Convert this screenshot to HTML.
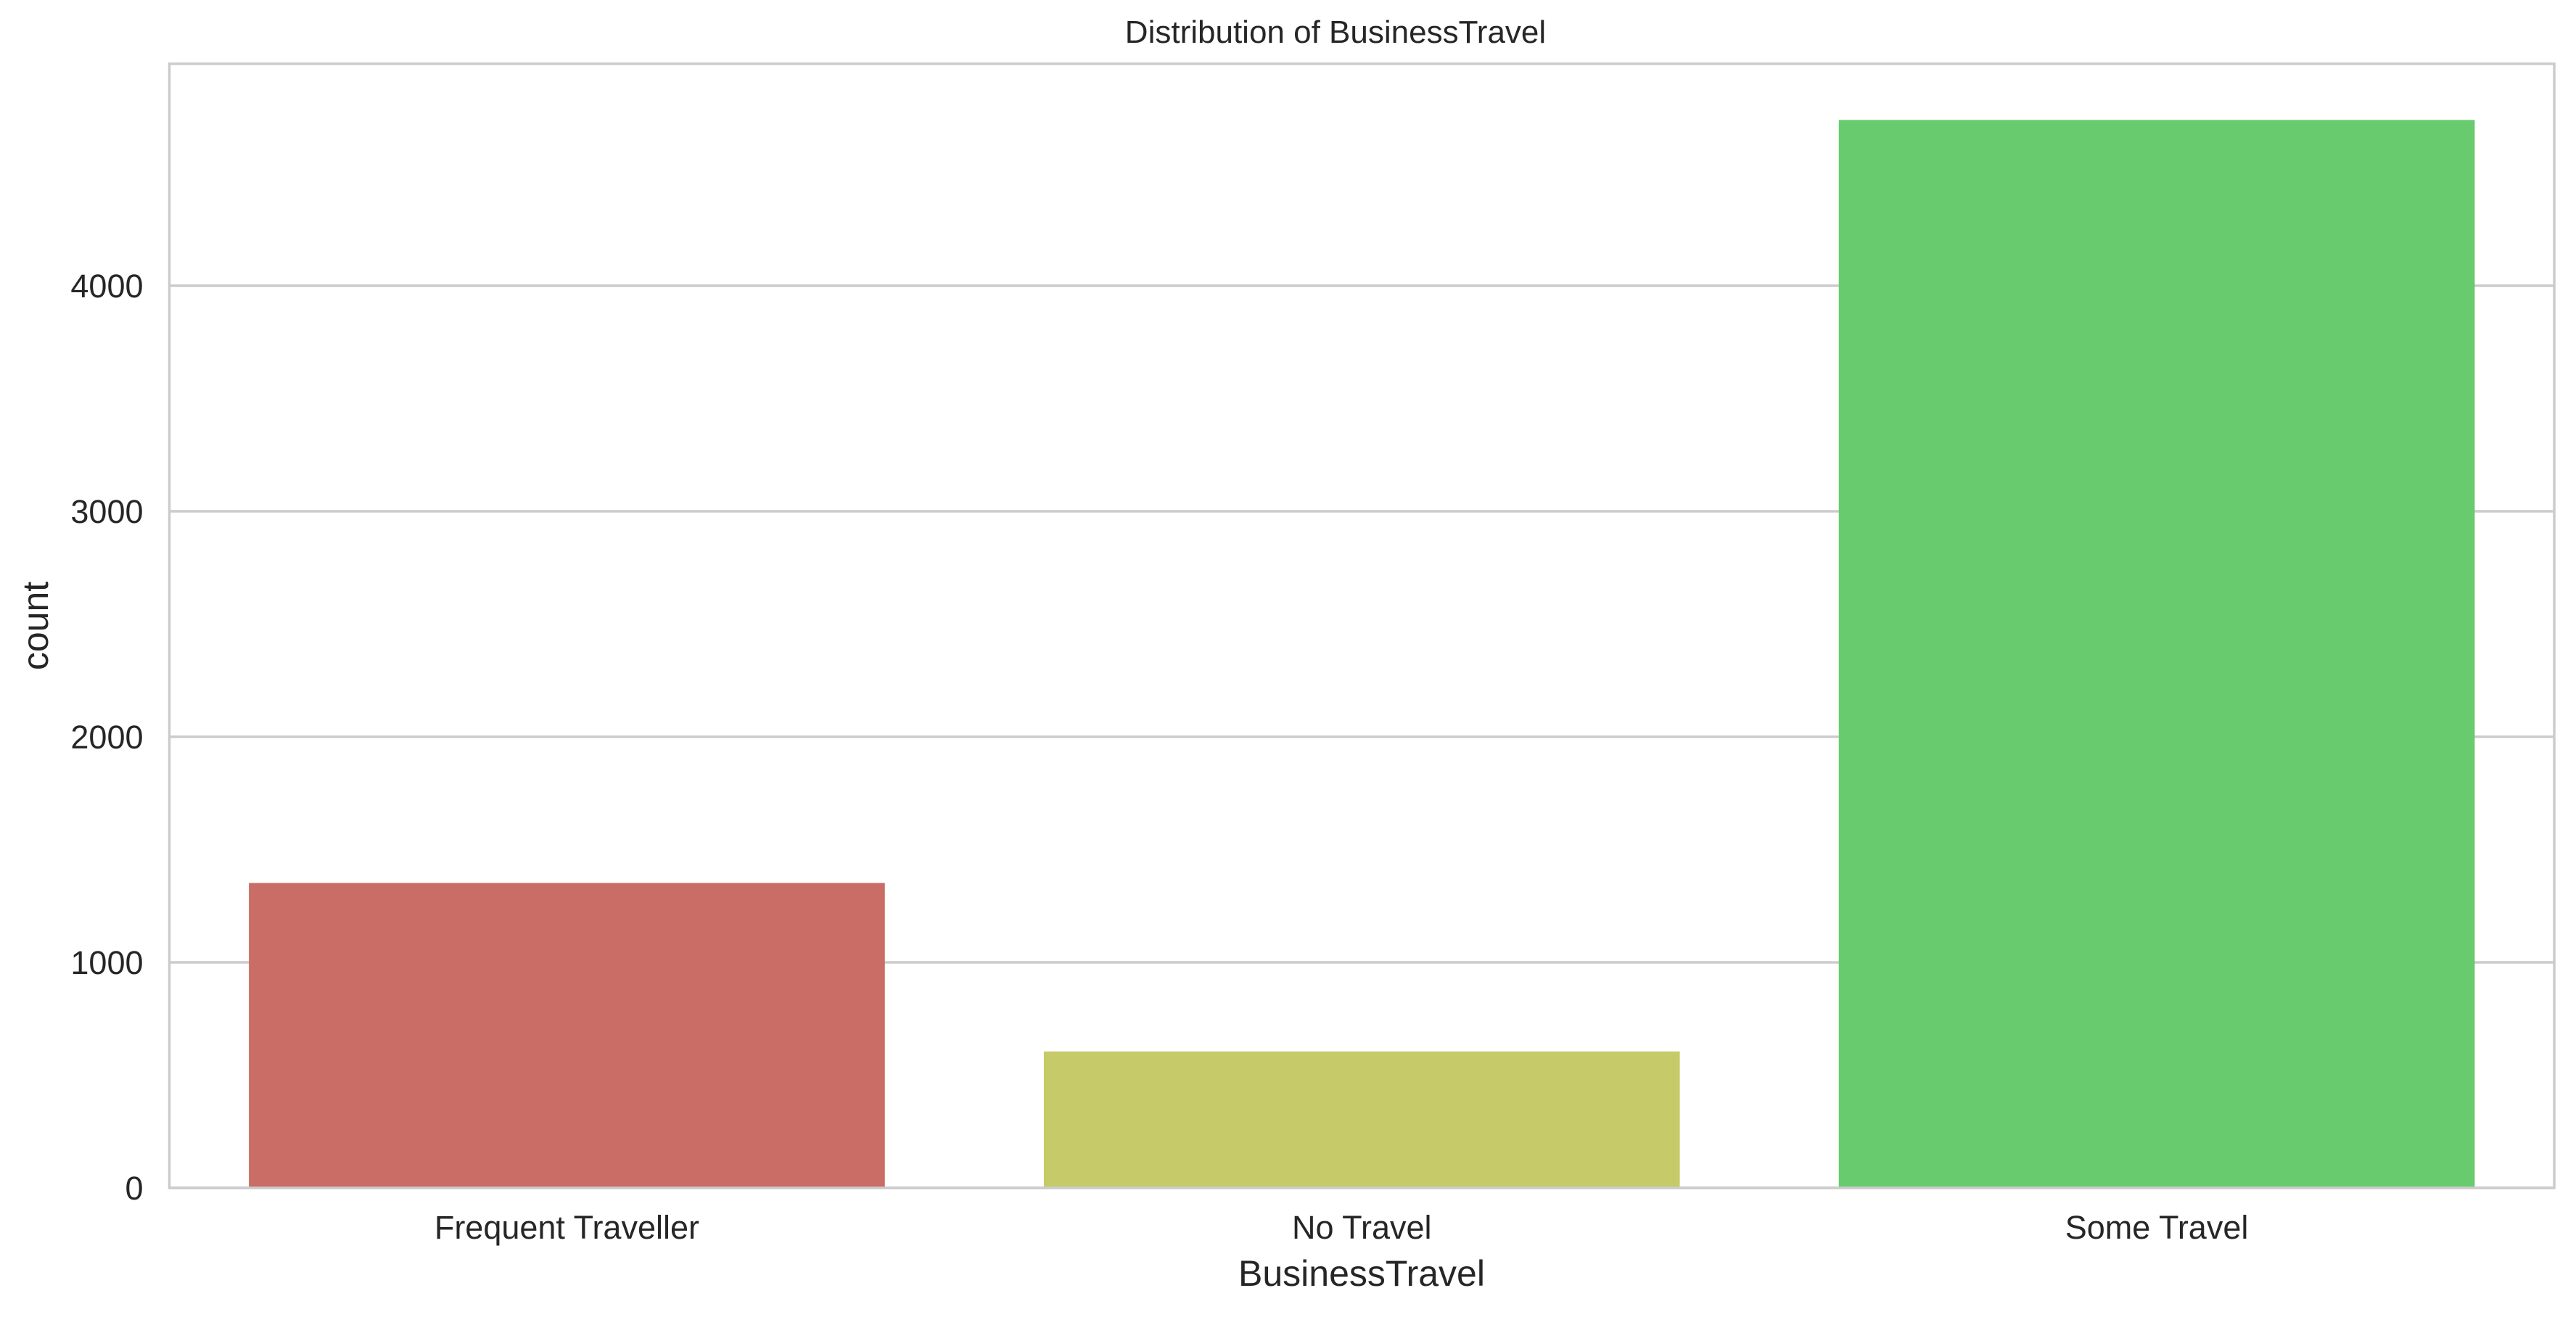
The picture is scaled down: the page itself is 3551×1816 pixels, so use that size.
<!DOCTYPE html>
<html><head><meta charset="utf-8"><style>
body{margin:0;background:#fff}
svg text{font-family:"Liberation Sans",Arial,sans-serif;fill:#262626}
</style></head><body>
<svg id="chart" width="3551" height="1811" xmlns="http://www.w3.org/2000/svg">
<rect width="3551" height="1811" fill="#fff"/>
<g id="grid"></g><g id="bars"></g><g id="axes"></g>
<text x="1841" y="59" font-size="44" text-anchor="middle">Distribution of BusinessTravel</text>
<text x="1877" y="1773" font-size="50" text-anchor="middle">BusinessTravel</text>
<text transform="translate(66,863) rotate(-90)" font-size="50" text-anchor="middle">count</text>
</svg>
<script>
const categories = ["Frequent Traveller", "No Travel", "Some Travel"];
const counts = [1352, 605, 4735];
const colors = ["#c96d66", "#c6ca69", "#68cb6e"];
const yTicks = [0, 1000, 2000, 3000, 4000];

const L = 233.5, R = 3521, T = 88, B = 1638;
const pxPer = 311 / 1000;
const band = (R - L) / categories.length;
const yScale = v => B - v * pxPer;
const xCenter = i => L + (i + 0.5) * band;
const NS = "http://www.w3.org/2000/svg";
function mk(tag, attrs, parent) {
  const e = document.createElementNS(NS, tag);
  for (const k in attrs) e.setAttribute(k, attrs[k]);
  parent.appendChild(e);
  return e;
}
const grid = document.getElementById('grid');
const bars = document.getElementById('bars');
const axes = document.getElementById('axes');
yTicks.forEach(t => {
  const y = yScale(t);
  const ln = mk('line', {x1: L, x2: R, y1: y, y2: y, stroke: '#cccccc', 'stroke-width': 3.5}, grid);
  
  
  const tx = mk('text', {x: L - 36, y: y + 16, 'font-size': 45, 'text-anchor': 'end'}, axes);
  tx.textContent = t;
  
  
});
categories.forEach((c, i) => {
  const w = band * 0.8;
  const r = mk('rect', {x: xCenter(i) - w / 2, y: yScale(counts[i]), width: w, height: counts[i] * pxPer, fill: colors[i]}, bars);
  
  
  const tx = mk('text', {x: xCenter(i), y: B + 70, 'font-size': 45, 'text-anchor': 'middle'}, axes);
  tx.textContent = c;
  
  
});
const frame = mk('rect', {x: L, y: T, width: R - L, height: B - T, fill: 'none', stroke: '#cccccc', 'stroke-width': 3.5}, axes);


</script>
</body></html>
